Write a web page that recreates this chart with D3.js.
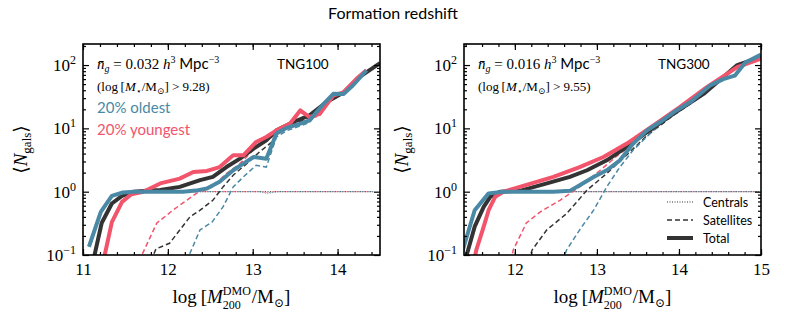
<!DOCTYPE html>
<html>
<head>
<meta charset="utf-8">
<script src="https://cdn.jsdelivr.net/npm/d3@7"></script>
<style>
  body { margin: 0; background: #fff; }
  .serif { font-family: "Liberation Serif", "DejaVu Serif", serif; }
  .sans { font-family: Lato, "DejaVu Sans", sans-serif; }
  .tick line { stroke: #000; stroke-width: 1.2; }
</style>
</head>
<body>
<div id="chart"></div>
<script>
// Values: [log M200, <N_gals>]
// TNG100 (left panel)
var tng100AllTot = [[11.12,0.08],[11.22,0.32],[11.34,0.65],[11.46,0.86],[11.6,1.0],[11.75,1.03],[11.91,1.06],[12.14,1.19],[12.38,1.52],[12.53,1.71],[12.69,2.45],[12.85,3.33],[13.01,4.79],[13.16,6.46],[13.28,9.3],[13.48,12.6],[13.67,16],[13.87,26],[14.07,37],[14.26,65],[14.5,107]];
var tng100YoungTot = [[11.24,0.08],[11.34,0.33],[11.46,0.69],[11.57,0.91],[11.71,1.0],[11.91,1.35],[12.14,1.61],[12.3,2.05],[12.46,2.13],[12.61,2.45],[12.77,3.76],[12.89,3.76],[13.04,6.1],[13.16,7.3],[13.28,9.3],[13.44,11.9],[13.56,19.2],[13.67,15.1],[13.79,17],[13.95,33],[14.07,37],[14.22,60],[14.34,83]];
var tng100OldTot = [[11.07,0.135],[11.21,0.48],[11.34,0.86],[11.47,0.97],[11.6,1.0],[11.9,1.0],[12.18,1.0],[12.33,1.04],[12.46,1.12],[12.61,1.43],[12.77,2.18],[12.89,2.78],[13.01,3.53],[13.16,3.3],[13.28,8.3],[13.40,10.2],[13.56,11.9],[13.67,13.4],[13.83,23.9],[13.95,35.2],[14.07,35],[14.18,47.5],[14.34,82]];

var tng100AllSat = [[11.80,0.08],[11.86,0.125],[12.02,0.153],[12.26,0.40],[12.38,0.51],[12.53,0.73],[12.65,1.19],[12.77,1.82],[12.93,2.78],[13.08,4.24],[13.22,6.0],[13.28,8.3],[13.48,11.6],[13.67,15],[13.87,25],[14.07,36],[14.26,64],[14.5,106]];
var tng100YoungSat = [[11.66,0.08],[11.87,0.32],[12.06,0.51],[12.22,0.73],[12.38,1.03],[12.53,1.19],[12.69,1.94],[12.85,2.78],[13.01,4.6],[13.16,6.3],[13.28,8.3],[13.44,10.9],[13.56,18.2],[13.67,14.1],[13.79,16],[13.95,32],[14.07,36],[14.22,59],[14.34,82]];
var tng100OldSat = [[12.22,0.08],[12.38,0.25],[12.52,0.33],[12.65,0.575],[12.77,1.19],[12.89,1.71],[13.04,2.61],[13.16,2.45],[13.28,7.3],[13.40,9.2],[13.56,10.9],[13.67,12.4],[13.83,22.9],[13.95,34.2],[14.07,34],[14.18,46.5],[14.34,81]];

var tng100AllCen = [[11.12,0.08],[11.22,0.32],[11.34,0.65],[11.46,0.86],[11.6,1.0],[14.42,1.0]];
var tng100YoungCen = [[11.24,0.08],[11.34,0.33],[11.46,0.69],[11.57,0.91],[11.71,1.0],[13.1,1.0],[13.18,0.97],[13.26,1.0],[14.42,1.0]];
var tng100OldCen = [[11.07,0.135],[11.21,0.48],[11.34,0.86],[11.47,0.97],[11.6,1.0],[13.08,1.0],[13.16,0.94],[13.22,0.96],[13.3,1.0],[14.42,1.0]];

// TNG300 (right panel)
var tng300AllTot = [[11.36,0.06],[11.43,0.12],[11.51,0.28],[11.62,0.575],[11.70,0.83],[11.82,1.0],[12.06,1.03],[12.39,1.35],[12.67,1.71],[12.88,2.18],[13.12,3.13],[13.36,5.07],[13.61,8.7],[13.93,17],[14.30,35],[14.71,100],[15.0,135]];
var tng300YoungTot = [[11.48,0.06],[11.53,0.12],[11.62,0.28],[11.68,0.51],[11.76,0.83],[11.86,1.0],[12.06,1.19],[12.47,1.71],[12.79,2.45],[13.08,3.53],[13.36,5.7],[13.69,11.1],[14.01,21.6],[14.34,44.7],[14.71,92.5],[15.0,126]];
var tng300OldTot = [[11.30,0.06],[11.39,0.153],[11.51,0.51],[11.68,0.94],[11.86,1.0],[12.2,1.0],[12.47,1.0],[12.67,1.03],[12.79,1.26],[12.96,1.71],[13.12,2.18],[13.28,3.13],[13.44,5.7],[13.61,9.3],[13.77,12.6],[13.97,19.2],[14.14,26],[14.38,47.5],[14.54,60],[14.68,68],[14.81,110],[15.0,146]];

var tng300AllSat = [[12.17,0.08],[12.21,0.12],[12.39,0.25],[12.63,0.45],[12.88,1.06],[13.12,1.94],[13.36,3.76],[13.61,7.7],[13.93,16],[14.30,34],[14.71,99],[15.0,134]];
var tng300YoungSat = [[11.95,0.08],[11.98,0.12],[12.14,0.32],[12.31,0.48],[12.55,0.73],[12.79,1.19],[13.04,2.18],[13.28,4.0],[13.69,10.1],[14.01,20.6],[14.34,43.7],[14.71,91.5],[15.0,125]];
var tng300OldSat = [[12.58,0.08],[12.63,0.12],[12.79,0.25],[12.96,0.51],[13.12,1.19],[13.28,2.45],[13.44,4.5],[13.65,8.3],[13.77,11.6],[13.97,18.2],[14.14,25],[14.38,46.5],[14.54,59],[14.68,67],[14.81,109],[15.0,145]];

var tng300AllCen = [[11.36,0.06],[11.43,0.12],[11.51,0.28],[11.62,0.575],[11.70,0.83],[11.82,1.0],[14.98,1.0]];
var tng300YoungCen = [[11.48,0.06],[11.53,0.12],[11.62,0.28],[11.68,0.51],[11.76,0.83],[11.86,1.0],[14.98,1.0]];
var tng300OldCen = [[11.30,0.06],[11.39,0.153],[11.51,0.51],[11.68,0.94],[11.86,1.0],[14.98,1.0]];

var xTicks100 = [11, 12, 13, 14];
var xTicks300 = [12, 13, 14, 15];
var yTicks = [0.1, 1, 10, 100];
var yTickExp = ['\u22121', '0', '1', '2'];

var colAll = '#333333', colYoung = '#f2546c', colOld = '#4a89a5';

(function() {
    var panels = [
        { name: 'TNG100', left: 83, xDomain: [11, 14.5], xTicks: xTicks100, density: '0.032', cut: '9.28',
          tot: [tng100AllTot, tng100YoungTot, tng100OldTot],
          sat: [tng100AllSat, tng100YoungSat, tng100OldSat],
          cen: [tng100AllCen, tng100YoungCen, tng100OldCen] },
        { name: 'TNG300', left: 464, xDomain: [11.38, 15], xTicks: xTicks300, density: '0.016', cut: '9.55',
          tot: [tng300AllTot, tng300YoungTot, tng300OldTot],
          sat: [tng300AllSat, tng300YoungSat, tng300OldSat],
          cen: [tng300AllCen, tng300YoungCen, tng300OldCen] }
    ];
    var colors = [colAll, colYoung, colOld];

    var W = 789, H = 329;
    var pTop = 44, pBottom = 255, pw = 297;
    var yMax = 215;

    var svg = d3.select('#chart').append('svg')
        .attr('width', W).attr('height', H);

    svg.append('text')
        .attr('class', 'sans')
        .attr('x', 393).attr('y', 19)
        .attr('text-anchor', 'middle')
        .style('font-size', '16px')
        .text('Formation redshift');

    // log minor ticks, only those inside the y range
    var minorY = [];
    yTicks.forEach(function(d) {
        for (var k = 2; k < 10; k++) {
            if (d * k <= yMax) minorY.push(d * k);
        }
    });

    panels.forEach(function(p, pi) {
        var x = d3.scaleLinear().domain(p.xDomain).range([p.left, p.left + pw]);
        var y = d3.scaleLog().domain([0.1, yMax]).range([pBottom, pTop]);

        var minorX = d3.range(Math.ceil(p.xDomain[0] * 5), Math.floor(p.xDomain[1] * 5) + 1)
            .map(function(d) { return d / 5; });

        var g = svg.append('g');

        var clipId = 'clip' + pi;
        g.append('clipPath').attr('id', clipId)
            .append('rect')
            .attr('x', p.left).attr('y', pTop)
            .attr('width', pw).attr('height', pBottom - pTop);

        var line = d3.line()
            .x(function(d) { return x(d[0]); })
            .y(function(d) { return y(d[1]); });

        var plot = g.append('g').attr('clip-path', 'url(#' + clipId + ')');

        // centrals (dotted)
        p.cen.forEach(function(c, i) {
            plot.append('path').datum(c)
                .attr('d', line).attr('fill', 'none')
                .attr('stroke', colors[i]).attr('stroke-width', 1)
                .attr('stroke-dasharray', '1,1.5');
        });
        // satellites (dashed)
        p.sat.forEach(function(c, i) {
            plot.append('path').datum(c)
                .attr('d', line).attr('fill', 'none')
                .attr('stroke', colors[i]).attr('stroke-width', 1.5)
                .attr('stroke-dasharray', '5,3');
        });
        // totals (thick)
        p.tot.forEach(function(c, i) {
            plot.append('path').datum(c)
                .attr('d', line).attr('fill', 'none')
                .attr('stroke', colors[i]).attr('stroke-width', 4)
                .attr('stroke-linejoin', 'round');
        });

        // axes, ticks pointing inward on all sides
        function addAxis(axis, tx, ty) {
            var a = g.append('g')
                .attr('transform', 'translate(' + tx + ',' + ty + ')')
                .call(axis);
            a.select('.domain').remove();
            return a;
        }
        addAxis(d3.axisBottom(x).tickValues(minorX).tickSize(-3).tickFormat(''), 0, pBottom);
        addAxis(d3.axisTop(x).tickValues(minorX).tickSize(-3).tickFormat(''), 0, pTop);
        addAxis(d3.axisTop(x).tickValues(p.xTicks).tickSize(-6).tickFormat(''), 0, pTop);
        var xa = addAxis(d3.axisBottom(x).tickValues(p.xTicks).tickSize(-6).tickPadding(8)
            .tickFormat(d3.format('d')), 0, pBottom);
        xa.selectAll('text').attr('class', 'serif').style('font-size', '17px').attr('fill', '#000');

        addAxis(d3.axisLeft(y).tickValues(minorY).tickSize(-3).tickFormat(''), p.left, 0);
        addAxis(d3.axisRight(y).tickValues(minorY).tickSize(-3).tickFormat(''), p.left + pw, 0);
        addAxis(d3.axisRight(y).tickValues(yTicks).tickSize(-6).tickFormat(''), p.left + pw, 0);
        var ya = addAxis(d3.axisLeft(y).tickValues(yTicks).tickSize(-6).tickPadding(7).tickFormat(''), p.left, 0);
        ya.selectAll('.tick text')
            .attr('class', 'serif').style('font-size', '17px').attr('fill', '#000')
            .each(function(d, i) {
                var t = d3.select(this);
                t.append('tspan').text('10');
                t.append('tspan').attr('dy', -7).style('font-size', '12px').text(yTickExp[i]);
            });

        g.append('rect')
            .attr('x', p.left).attr('y', pTop)
            .attr('width', pw).attr('height', pBottom - pTop)
            .attr('fill', 'none').attr('stroke', '#000').attr('stroke-width', 1.6);

        // axis labels
        var cx = p.left + pw / 2;
        var xl = g.append('text').attr('class', 'serif')
            .attr('x', cx).attr('y', 303).attr('text-anchor', 'middle')
            .style('font-size', '19px');
        xl.append('tspan').text('log\u2009[');
        xl.append('tspan').style('font-style', 'italic').text('M');
        xl.append('tspan').attr('dy', -8).style('font-size', '12px').text('DMO');
        xl.append('tspan').attr('dx', -28).attr('dy', 14).style('font-size', '12px').text('200');
        xl.append('tspan').attr('dx', 11).attr('dy', -6).text('/M');
        xl.append('tspan').attr('dy', 4).style('font-size', '12px').text('\u2299');
        xl.append('tspan').attr('dy', -4).text(']');

        var ylx = p.left - 56, yly = (pTop + pBottom) / 2;
        var yl = g.append('text').attr('class', 'serif')
            .attr('transform', 'translate(' + ylx + ',' + yly + ') rotate(-90)')
            .attr('text-anchor', 'middle')
            .style('font-size', '19px');
        yl.append('tspan').text('\u27E8');
        yl.append('tspan').style('font-style', 'italic').text('N');
        yl.append('tspan').attr('dy', 4).style('font-size', '13px').text('gals');
        yl.append('tspan').attr('dy', -4).text('\u27E9');

        // annotations
        var ax = p.left + 14;
        var t1 = g.append('text').attr('x', ax).attr('y', 69).style('font-size', '15px');
        t1.append('tspan').attr('class', 'serif').style('font-style', 'italic').text('n\u0304');
        t1.append('tspan').attr('class', 'serif').attr('dy', 3).style('font-size', '10px').style('font-style', 'italic').text('g');
        t1.append('tspan').attr('class', 'serif').attr('dy', -3).text(' = ' + p.density + ' ');
        t1.append('tspan').attr('class', 'serif').style('font-style', 'italic').text('h');
        t1.append('tspan').attr('class', 'serif').attr('dy', -6).style('font-size', '10px').text('3');
        t1.append('tspan').attr('class', 'sans').attr('dy', 6).text(' Mpc');
        t1.append('tspan').attr('class', 'serif').attr('dy', -6).style('font-size', '10px').text('\u22123');

        var t2 = g.append('text').attr('class', 'serif').attr('x', ax).attr('y', 91).style('font-size', '13px');
        t2.append('tspan').text('(log\u2009[');
        t2.append('tspan').style('font-style', 'italic').text('M');
        t2.append('tspan').attr('dy', 3).style('font-size', '9px').text('\u22C6');
        t2.append('tspan').attr('dy', -3).text('/M');
        t2.append('tspan').attr('dy', 3).style('font-size', '9px').text('\u2299');
        t2.append('tspan').attr('dy', -3).text('] > ' + p.cut + ')');

        g.append('text').attr('class', 'sans')
            .attr('x', p.left + 194).attr('y', 69)
            .style('font-size', '13.5px')
            .text(p.name);

        if (pi === 0) {
            g.append('text').attr('class', 'sans').attr('x', ax).attr('y', 113)
                .style('font-size', '15px').attr('fill', colOld).text('20% oldest');
            g.append('text').attr('class', 'sans').attr('x', ax).attr('y', 135)
                .style('font-size', '15px').attr('fill', colYoung).text('20% youngest');
        } else {
            var legend = [
                { label: 'Centrals', w: 1, dash: '1,1.5' },
                { label: 'Satellites', w: 1.5, dash: '5,3' },
                { label: 'Total', w: 4, dash: null }
            ];
            legend.forEach(function(l, i) {
                var ly = 202 + i * 18;
                g.append('line')
                    .attr('x1', 667).attr('x2', 693).attr('y1', ly).attr('y2', ly)
                    .attr('stroke', colAll).attr('stroke-width', l.w)
                    .attr('stroke-dasharray', l.dash);
                g.append('text').attr('class', 'sans')
                    .attr('x', 703).attr('y', ly + 4.5)
                    .style('font-size', '12.5px')
                    .text(l.label);
            });
        }
    });
})();
</script>
</body>
</html>
